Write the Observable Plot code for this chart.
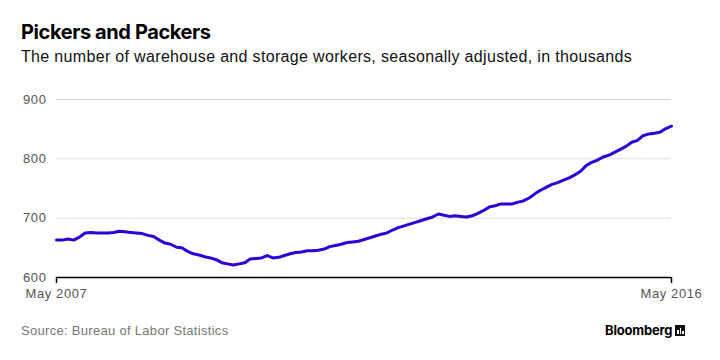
<!DOCTYPE html>
<html>
<head>
<meta charset="utf-8">
<script src="https://cdn.jsdelivr.net/npm/d3@7"></script>
<script src="https://cdn.jsdelivr.net/npm/@observablehq/plot@0.6"></script>
<style>
  html, body { margin: 0; padding: 0; background: #fff; }
  #wrap { position: relative; width: 720px; height: 360px; overflow: hidden; font-family: "Liberation Sans", Arial, sans-serif; }
  #title { position: absolute; left: 21px; top: 20px; font-family: Inter, "Liberation Sans", sans-serif; font-weight: 700; font-size: 20px; letter-spacing: -0.4px; color: #000; }
  #subtitle { position: absolute; left: 21px; top: 48px; font-size: 16px; letter-spacing: 0.33px; color: #111; }
  #chart { position: absolute; left: 0; top: 80px; }
  #source { position: absolute; left: 21px; top: 323px; font-size: 13px; letter-spacing: 0.3px; color: #777; }
  #logo { position: absolute; left: 605px; top: 322px; font-family: Inter, "Liberation Sans", sans-serif; font-weight: 700; font-size: 13px; letter-spacing: -0.2px; color: #000; }
  #logo span { display: inline-block; width: 10px; height: 11px; background: #111; margin-left: 3px; vertical-align: -1px; position: relative; }
  #logo span i { position: absolute; bottom: 2px; width: 1.5px; background: #fff; }
</style>
</head>
<body>
<div id="wrap">
  <div id="title">Pickers and Packers</div>
  <div id="subtitle">The number of warehouse and storage workers, seasonally adjusted, in thousands</div>
  <div id="chart"></div>
  <div id="source">Source: Bureau of Labor Statistics</div>
  <div id="logo">Bloomberg<span><i style="left:2px;height:4px"></i><i style="left:4.5px;height:6px"></i><i style="left:7px;height:3px"></i></span></div>
</div>
<script>
// Monthly series, May 2007 – May 2016 (thousands)
const startMonth = "2007-05";
const workers = [
  663, 663, 665, 663, 668, 675, 676, 675, 675, 675,
  676, 678, 677, 676, 675, 674, 671, 669, 663, 658,
  656, 651, 650, 644, 640, 638, 635, 633, 630, 625,
  623, 621, 623, 625, 631, 632, 633, 637, 633, 634,
  637, 640, 642, 643, 645, 645, 646, 648, 652, 654,
  656, 659, 660, 661, 664, 667, 670, 673, 675, 680,
  684, 687, 690, 693, 696, 699, 702, 707, 705, 703,
  704, 703, 702, 704, 708, 713, 719, 721, 724, 724,
  724, 727, 729, 734, 741, 747, 752, 757, 760, 764,
  768, 773, 779, 789, 794, 798, 803, 806, 811, 816,
  821, 828, 831, 839, 842, 843, 845, 851, 855
];
const yTicks = [600, 700, 800, 900];
const xTickLabels = ["2007-05", "2016-05"];

const parse = d3.utcParse("%Y-%m");
const start = parse(startMonth);
const data = workers.map((v, i) => ({ date: d3.utcMonth.offset(start, i), value: v }));
const xTicks = xTickLabels.map(parse);

const chart = Plot.plot({
  width: 720,
  height: 230,
  marginTop: 19,
  marginBottom: 33,
  marginLeft: 56,
  marginRight: 49,
  style: { fontFamily: "'Liberation Sans', Arial, sans-serif", fontSize: "13px", color: "#555", background: "transparent", letterSpacing: "0.6px" },
  x: { type: "utc", domain: [xTicks[0], xTicks[1]] },
  y: { domain: [600, 900] },
  marks: [
    Plot.gridY(yTicks.filter(d => d !== 600), { stroke: "#dcdcdc", strokeOpacity: 1, strokeWidth: 1 }),
    Plot.axisY(yTicks, { tickSize: 0, tickPadding: 10, fill: "#555", fontSize: 13, label: null }),
    Plot.axisX(xTicks, { tickSize: 6, tickPadding: 5, stroke: "#000", strokeWidth: 1.5, fill: "#555", fontSize: 13, tickFormat: d3.utcFormat("%b %Y"), label: null }),
    Plot.ruleY([600], { stroke: "#000", strokeWidth: 1.5 }),
    Plot.line(data, { x: "date", y: "value", stroke: "#2c00d6", strokeWidth: 3, strokeLinejoin: "round" })
  ]
});
document.getElementById("chart").appendChild(chart);
</script>
</body>
</html>
